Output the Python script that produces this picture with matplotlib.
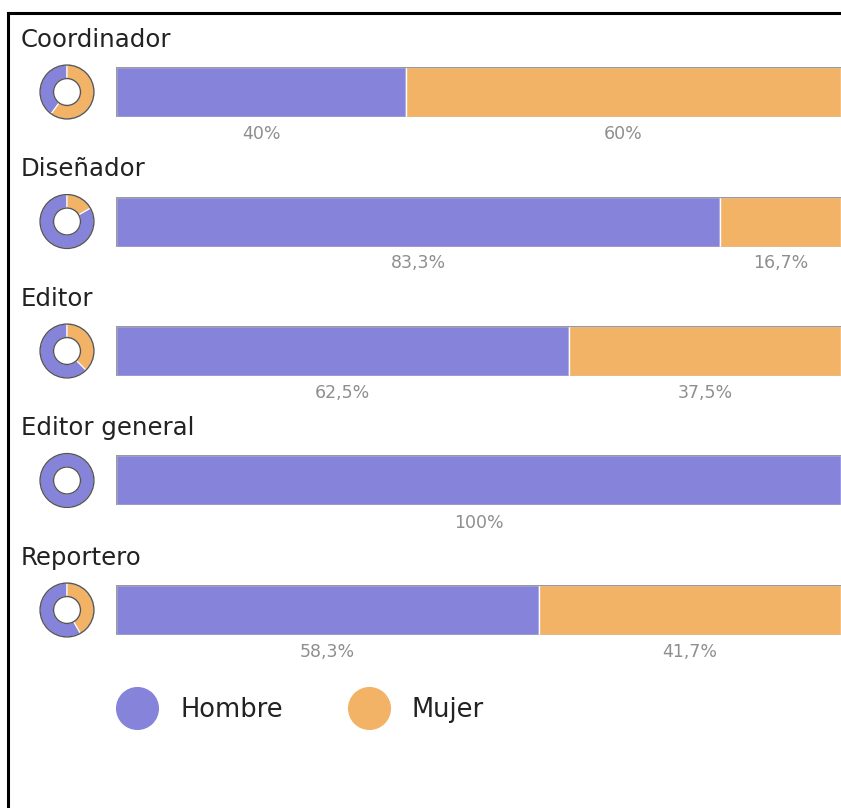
import matplotlib.pyplot as plt
from matplotlib.lines import Line2D
from matplotlib.patches import Circle

# Data
roles = ['Coordinador', 'Diseñador', 'Editor', 'Editor general', 'Reportero']
hombre = [40, 83.3, 62.5, 100, 58.3]
mujer = [60, 16.7, 37.5, 0, 41.7]
series_names = ['Hombre', 'Mujer']
colors = ['#8683DB', '#F2B366']

W, H = 841, 808
fig = plt.figure(figsize=(W / 100, H / 100), dpi=100)


def px_axes(x0, y0, w, h):
    # place an axes using pixel positions (top-left origin)
    return fig.add_axes([x0 / W, 1 - (y0 + h) / H, w / W, h / H])


def fmt(v):
    s = ('%.1f' % v).rstrip('0').rstrip('.')
    return s.replace('.', ',') + '%'


row_gap = 129.5
for i, role in enumerate(roles):
    yc = 92 + i * row_gap

    # row title
    fig.text(21 / W, 1 - (yc - 52) / H, role, fontsize=17.6, color='#222222',
             va='center', ha='left')

    # stacked bar
    ax = px_axes(116, yc - 25, W - 116, 50)
    vals = [hombre[i], mujer[i]]
    left = 0
    for v, c in zip(vals, colors):
        if v > 0:
            ax.barh(0, v, left=left, height=1, color=c, edgecolor='white', linewidth=1)
            ax.text(left + v / 2, -0.84, fmt(v), ha='center', va='center',
                    fontsize=12.5, color='#8e8e8e', clip_on=False)
        left += v
    ax.axhline(0.5, color='#9a9a9a', lw=1)
    ax.axhline(-0.5, color='#9a9a9a', lw=1)
    ax.axvline(0, color='#9a9a9a', lw=1)
    ax.set_xlim(0, 100)
    ax.set_ylim(-0.5, 0.5)
    ax.axis('off')

    # small donut
    dax = px_axes(67 - 28, yc - 28, 56, 56)
    pv = [v for v in vals if v > 0]
    pc = [c for v, c in zip(vals, colors) if v > 0]
    dax.pie(pv, colors=pc, startangle=90, counterclock=True, radius=1,
            wedgeprops=dict(width=0.5, edgecolor='white', linewidth=0.8))
    dax.add_patch(Circle((0, 0), 1, fill=False, edgecolor='#555555', lw=1))
    dax.add_patch(Circle((0, 0), 0.5, fill=False, edgecolor='#555555', lw=1))
    dax.set_xlim(-1.04, 1.04)
    dax.set_ylim(-1.04, 1.04)

# legend
handles = [Line2D([], [], marker='o', ls='', markersize=30, color=c) for c in colors]
leg = fig.legend(handles, series_names, loc='center left', bbox_to_anchor=(95 / W, 1 - 710 / H),
                 ncol=2, frameon=False, fontsize=18.5, handletextpad=0.91, columnspacing=2.6,
                 handlelength=1.5)
for t in leg.get_texts():
    t.set_color('#222222')

# frame lines on top and left
fig.add_artist(Line2D([8 / W, 1], [1 - 13 / H, 1 - 13 / H], color='black', lw=2.2))
fig.add_artist(Line2D([8 / W, 8 / W], [0, 1 - 13 / H], color='black', lw=2.2))

fig.savefig('out.png', dpi=100, facecolor='white')
